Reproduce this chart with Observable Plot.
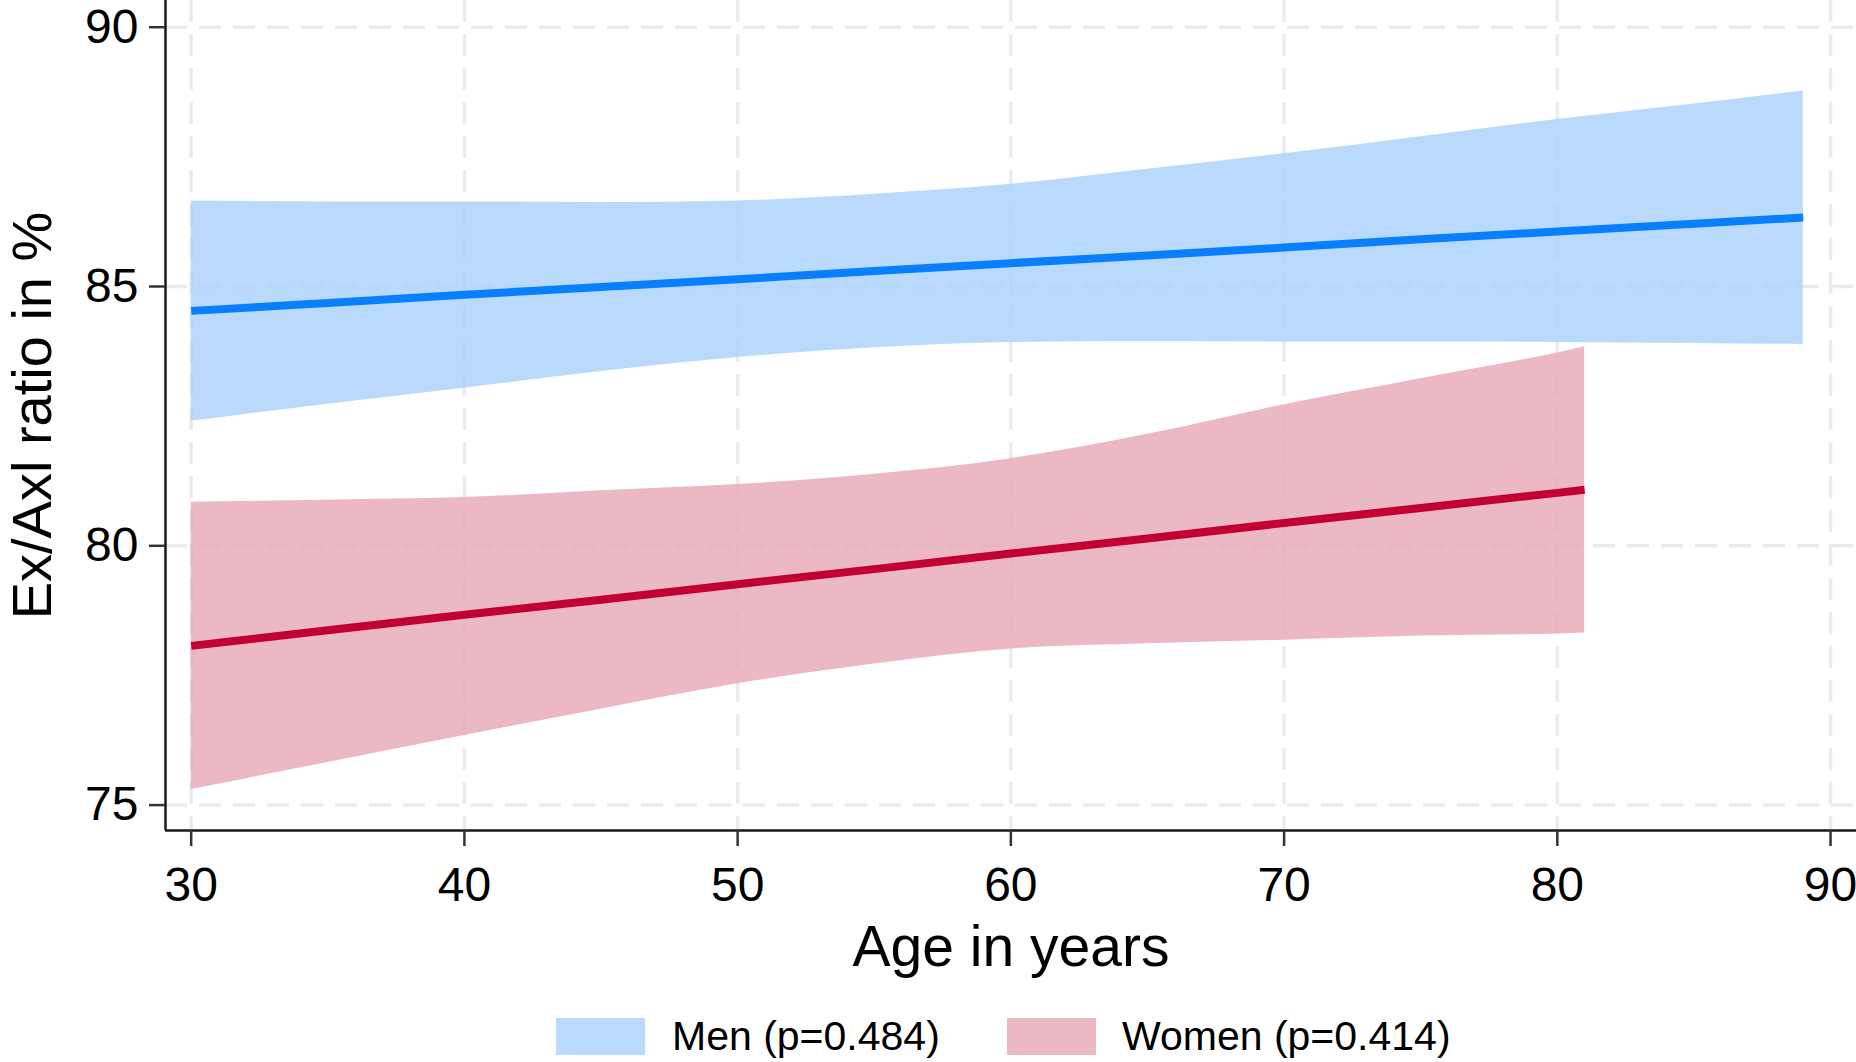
<!DOCTYPE html>
<html>
<head>
<meta charset="utf-8">
<script src="https://cdn.jsdelivr.net/npm/d3@7"></script>
<script src="https://cdn.jsdelivr.net/npm/@observablehq/plot@0.6"></script>
<style>
  html, body { margin: 0; padding: 0; background: #fff; }
  body { width: 1856px; height: 1062px; overflow: hidden; font-family: "Liberation Sans", Arial, sans-serif; }
  #legend { position: relative; width: 1856px; height: 57px; }
  .sw { position: absolute; top: 13px; width: 89px; height: 37px; }
  .lt { position: absolute; top: 13px; height: 37px; line-height: 37px; font-size: 41px; color: #000; white-space: nowrap; }
</style>
</head>
<body>
<div id="chart"></div>
<div id="legend"></div>
<script>
// ---- data ----
const xTicks = [30, 40, 50, 60, 70, 80, 90];
const yTicks = [75, 80, 85, 90];

const menAge = [30, 35, 40, 45, 50, 55, 60, 65, 70, 75, 80, 85, 89];
const menFit = [84.53, 84.68, 84.84, 84.99, 85.14, 85.30, 85.45, 85.60, 85.75, 85.91, 86.06, 86.21, 86.33];
const menLo  = [82.40, 82.73, 83.04, 83.36, 83.63, 83.82, 83.92, 83.94, 83.93, 83.93, 83.92, 83.90, 83.88];
const menHi  = [86.65, 86.63, 86.63, 86.62, 86.65, 86.78, 86.97, 87.26, 87.56, 87.89, 88.22, 88.52, 88.77];

const womenAge = [30, 35, 40, 45, 50, 55, 60, 65, 70, 75, 80, 81];
const womenFit = [78.07, 78.37, 78.67, 78.96, 79.26, 79.55, 79.85, 80.14, 80.44, 80.73, 81.02, 81.08];
const womenLo  = [75.30, 75.82, 76.34, 76.85, 77.34, 77.72, 78.01, 78.11, 78.18, 78.26, 78.30, 78.32];
const womenHi  = [80.84, 80.88, 80.93, 81.06, 81.18, 81.38, 81.68, 82.15, 82.72, 83.22, 83.72, 83.84];

const legendLabels = ["Men (p=0.484)", "Women (p=0.414)"];
const xLabel = "Age in years";
const yLabel = "Ex/Axl ratio in %";

// ---- build tables ----
const men = menAge.map((a, i) => ({age: a, fit: menFit[i], lo: menLo[i], hi: menHi[i]}));
const women = womenAge.map((a, i) => ({age: a, fit: womenFit[i], lo: womenLo[i], hi: womenHi[i]}));

const xDomain = [29.06, 90.95];
const yDomain = [74.51, 90.515];

const blueBand = "#a8d1fb", pinkBand = "#e7a6b5";
const blueLine = "#0a7ffe", redLine = "#c20032";
const gridStyle = {stroke: "#ebebeb", strokeOpacity: 1, strokeWidth: 3.5, strokeDasharray: "22,12"};

const chart = Plot.plot({
  width: 1856,
  height: 1005,
  marginLeft: 165,
  marginRight: 0,
  marginTop: 0,
  marginBottom: 175,
  style: {fontFamily: "'Liberation Sans', Arial, sans-serif", fontSize: "48px", color: "#000", background: "#fff", overflow: "visible"},
  x: {domain: xDomain},
  y: {domain: yDomain},
  marks: [
    Plot.gridX(xTicks, gridStyle),
    Plot.gridY(yTicks, gridStyle),
    Plot.areaY(men, {x: "age", y1: "lo", y2: "hi", fill: blueBand, fillOpacity: 0.8, curve: "monotone-x"}),
    Plot.areaY(women, {x: "age", y1: "lo", y2: "hi", fill: pinkBand, fillOpacity: 0.8, curve: "monotone-x"}),
    Plot.line(men, {x: "age", y: "fit", stroke: blueLine, strokeWidth: 8, strokeLinecap: "butt"}),
    Plot.line(women, {x: "age", y: "fit", stroke: redLine, strokeWidth: 8, strokeLinecap: "butt"}),
    Plot.ruleX([xDomain[0]], {stroke: "#1a1a1a", strokeWidth: 2.5}),
    Plot.ruleY([yDomain[0]], {stroke: "#1a1a1a", strokeWidth: 2.5}),
    Plot.axisX(xTicks, {tickSize: 16, tickPadding: 20, stroke: "#333", strokeWidth: 2.5, fontSize: 48, tickFormat: d => String(d), label: null}),
    Plot.axisY(yTicks, {tickSize: 16, tickPadding: 11, stroke: "#333", strokeWidth: 2.5, fontSize: 48, tickFormat: d => String(d), label: null}),
    Plot.text([xLabel], {frameAnchor: "bottom", dy: 117, fontSize: 57, lineAnchor: "middle", fill: "#000"}),
    Plot.text([yLabel], {frameAnchor: "left", textAnchor: "middle", dx: -132, rotate: -90, fontSize: 56, lineAnchor: "middle", fill: "#000"})
  ]
});
document.getElementById("chart").appendChild(chart);

// ---- legend ----
const legend = document.getElementById("legend");
const items = [
  {label: legendLabels[0], color: blueBand, swX: 556, txX: 672},
  {label: legendLabels[1], color: pinkBand, swX: 1007, txX: 1122}
];
for (const it of items) {
  const sw = document.createElement("div");
  sw.className = "sw";
  sw.style.left = it.swX + "px";
  sw.style.background = it.color;
  sw.style.opacity = 0.8;
  legend.appendChild(sw);
  const t = document.createElement("div");
  t.className = "lt";
  t.style.left = it.txX + "px";
  t.textContent = it.label;
  legend.appendChild(t);
}
</script>
</body>
</html>
